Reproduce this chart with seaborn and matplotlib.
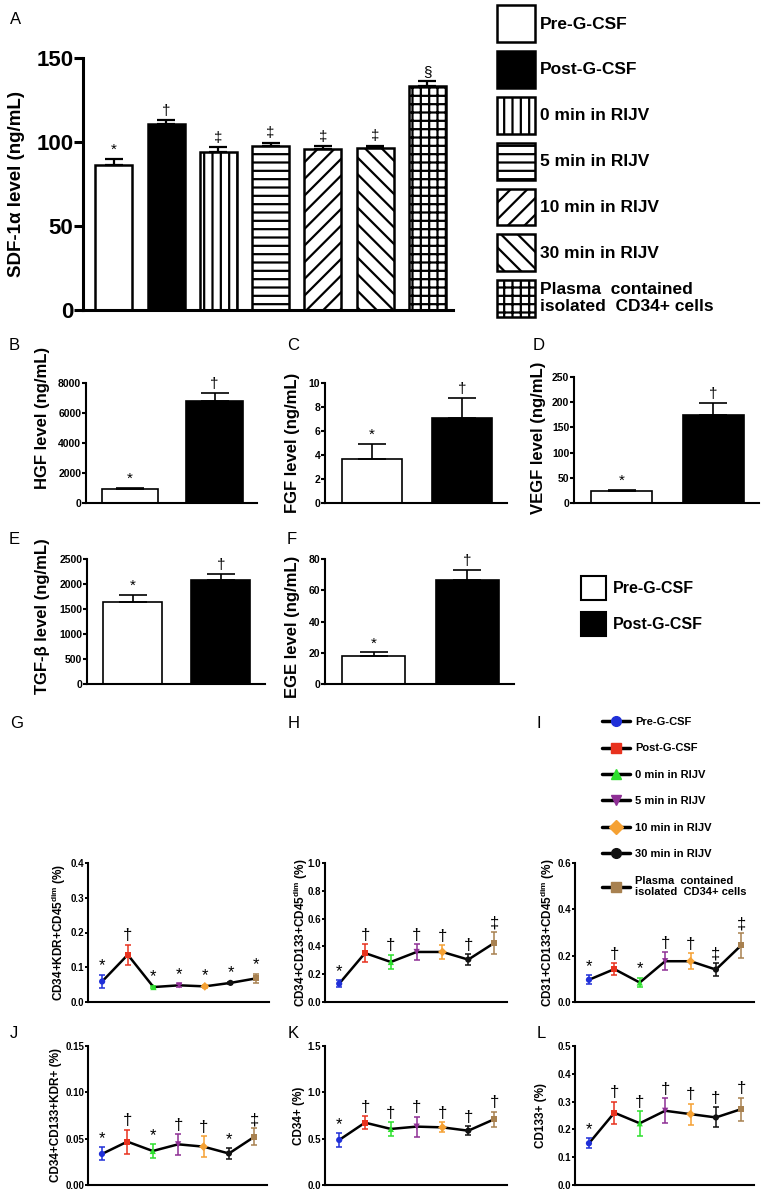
import numpy as np
import pandas as pd
import seaborn as sns
import matplotlib
matplotlib.use('Agg')
from matplotlib import pyplot as plt
from matplotlib.patches import Patch
from matplotlib.lines import Line2D

sns.set_style('ticks')
plt.rcParams['font.family'] = ['Liberation Sans', 'DejaVu Sans']
plt.rcParams['mathtext.fontset'] = 'custom'
plt.rcParams['mathtext.rm'] = 'Liberation Sans'
plt.rcParams['mathtext.bf'] = 'Liberation Sans:bold'
plt.rcParams['hatch.linewidth'] = 1.6
for k in ['text.color', 'axes.labelcolor', 'xtick.color', 'ytick.color', 'axes.edgecolor']:
    plt.rcParams[k] = 'black'

NARROW = ['Liberation Sans Narrow', 'Liberation Sans', 'DejaVu Sans']

# groups of panel A and G-L
groups = ['Pre-G-CSF', 'Post-G-CSF', '0 min in RIJV', '5 min in RIJV',
          '10 min in RIJV', '30 min in RIJV', 'Plasma  contained\nisolated  CD34+ cells']
bar_fills = ['white', 'black', 'white', 'white', 'white', 'white', 'white']
bar_hatches = ['', '', '||', '--', '//', '\\\\', '++']
line_colors = ['#1f2fd8', '#e8321e', '#2ee02e', '#8e2f95', '#f5a133', '#111111', '#a88150']
line_markers = ['o', 's', '^', 'v', 'D', 'o', 's']

# panel A
sdf_mean = [86.4, 110.9, 93.8, 97.9, 95.9, 96.3, 133.5]
sdf_err = [3.6, 2.0, 3.0, 1.8, 1.8, 1.6, 3.0]
sdf_marks = ['*', '†', '‡', '‡', '‡', '‡', '§']
sdf_ticks = [0, 50, 100, 150]

# panels B-F
pair_groups = ['Pre-G-CSF', 'Post-G-CSF']
pair_marks = ['*', '†']
hgf_mean = [930, 6780]
hgf_err = [100, 555]
fgf_mean = [3.65, 7.08]
fgf_err = [1.3, 1.7]
vegf_mean = [23, 174]
vegf_err = [3, 24]
tgf_mean = [1640, 2086]
tgf_err = [134, 120]
ege_mean = [17.6, 66.3]
ege_err = [2.6, 6.9]

# panels G-L
g_mean = [0.059, 0.136, 0.043, 0.048, 0.045, 0.055, 0.068]
g_err = [0.019, 0.029, 0.004, 0.005, 0.004, 0.003, 0.014]
g_marks = ['*', '†', '*', '*', '*', '*', '*']
h_mean = [0.132, 0.352, 0.288, 0.36, 0.36, 0.305, 0.424]
h_err = [0.025, 0.065, 0.053, 0.057, 0.05, 0.04, 0.08]
h_marks = ['*', '†', '†', '†', '†', '†', '‡']
i_mean = [0.096, 0.142, 0.084, 0.176, 0.176, 0.14, 0.245]
i_err = [0.02, 0.026, 0.02, 0.038, 0.035, 0.028, 0.053]
i_marks = ['*', '†', '*', '†', '†', '‡', '‡']
j_mean = [0.0335, 0.0468, 0.0367, 0.0439, 0.0414, 0.034, 0.052]
j_err = [0.007, 0.013, 0.0075, 0.011, 0.011, 0.0055, 0.009]
j_marks = ['*', '†', '*', '†', '†', '*', '‡']
k_mean = [0.486, 0.673, 0.605, 0.63, 0.622, 0.586, 0.709]
k_err = [0.072, 0.07, 0.072, 0.107, 0.054, 0.05, 0.08]
k_marks = ['*', '†', '†', '†', '†', '†', '†']
l_mean = [0.15, 0.26, 0.222, 0.267, 0.255, 0.243, 0.273]
l_err = [0.018, 0.04, 0.044, 0.045, 0.038, 0.036, 0.041]
l_marks = ['*', '†', '†', '†', '†', '†', '†']

W, H = 768, 1196
fig = plt.figure(figsize=(W / 100, H / 100), dpi=100)


def px_axes(x0, x1, ytop, ybot):
    return fig.add_axes([x0 / W, 1 - ybot / H, (x1 - x0) / W, (ybot - ytop) / H])


def bar_panel(ax, names, means, errs, marks, fills, hatches, width, lw, elw, capsize,
              mark_fs, ticks, ticklabels, tick_fs, spine_w, tick_len, ylabel, ylabel_fs,
              label_xy, xlim, tick_family):
    sns.barplot(x=names, y=means, hue=names, palette=dict(zip(names, fills)),
                width=width, edgecolor='black', linewidth=lw, errorbar=None,
                legend=False, ax=ax, zorder=2)
    for p, h in zip(ax.patches, hatches):
        p.set_hatch(h)
    pos = np.arange(len(names))
    ax.errorbar(pos, means, yerr=[np.zeros(len(names)), errs], fmt='none', ecolor='black',
                elinewidth=elw, capsize=capsize, capthick=elw, zorder=3)
    for x, m, e, s in zip(pos, means, errs, marks):
        ax.annotate(s, (x, m + e), xytext=(0, 1.5), textcoords='offset points',
                    ha='center', va='bottom', fontsize=mark_fs)
    ax.set_xlim(*xlim)
    ax.set_ylim(ticks[0], ticks[-1])
    ax.set_xticks([])
    ax.set_xlabel('')
    ax.set_yticks(ticks, labels=ticklabels, fontsize=tick_fs, fontweight='bold', family=tick_family)
    ax.tick_params(axis='y', length=tick_len, width=spine_w, pad=0.5)
    sns.despine(ax=ax)
    for s in ['left', 'bottom']:
        ax.spines[s].set_linewidth(spine_w)
    ax.set_ylabel(ylabel, fontsize=ylabel_fs, fontweight='bold')
    ax.yaxis.set_label_coords(*label_xy)


def line_panel(ax, means, errs, marks, ticks, ticklabels, ylabel, label_x):
    pos = np.arange(len(means))
    sns.lineplot(x=pos, y=means, color='black', linewidth=1.8, ax=ax, zorder=2)
    for x, m, e, c in zip(pos, means, errs, line_colors):
        ax.errorbar(x, m, yerr=e, fmt='none', ecolor=c, elinewidth=1.1,
                    capsize=2.5, capthick=1.1, zorder=3)
    sns.scatterplot(x=pos, y=means, hue=groups, style=groups,
                    palette=dict(zip(groups, line_colors)),
                    markers=dict(zip(groups, line_markers)), s=20, edgecolor='none',
                    legend=False, ax=ax, zorder=4)
    for x, m, e, s in zip(pos, means, errs, marks):
        ax.annotate(s, (x, m + e), xytext=(0, 1), textcoords='offset points',
                    ha='center', va='bottom', fontsize=12)
    ax.set_xlim(-0.55, 6.5)
    ax.set_ylim(ticks[0], ticks[-1])
    ax.set_xticks([])
    ax.set_xlabel('')
    ax.set_yticks(ticks, labels=ticklabels, fontsize=7, fontweight='bold', family=NARROW)
    ax.tick_params(axis='y', length=2.5, width=1.4, pad=0.3)
    sns.despine(ax=ax)
    for s in ['left', 'bottom']:
        ax.spines[s].set_linewidth(1.5)
    ax.set_ylabel(ylabel, fontsize=8.5, fontweight='bold', family=NARROW)
    ax.yaxis.set_label_coords(label_x, 0.5)


# panel A
axA = px_axes(83, 453, 58, 310)
bar_panel(axA, groups, sdf_mean, sdf_err, sdf_marks, bar_fills, bar_hatches, 0.71, 1.8, 1.6, 6.5,
          11, sdf_ticks, [str(t) for t in sdf_ticks], 16, 2.2, 6.5,
          'SDF-1α level (ng/mL)', 13.5, (-0.157, 0.5), (-0.59, 6.49), ['Liberation Sans'])

pair_fills = ['white', 'black']
pair_hatch = ['', '']
pair_specs = [
    ((86, 257, 383, 503), hgf_mean, hgf_err, [0, 2000, 4000, 6000, 8000], 'HGF level (ng/mL)', (-0.21, 0.71)),
    ((325, 507, 383, 503), fgf_mean, fgf_err, [0, 2, 4, 6, 8, 10], 'FGF level (ng/mL)', (-0.137, 0.5)),
    ((574, 759, 377, 503), vegf_mean, vegf_err, [0, 50, 100, 150, 200, 250], 'VEGF level (ng/mL)', (-0.151, 0.52)),
    ((87, 265, 559, 684), tgf_mean, tgf_err, [0, 500, 1000, 1500, 2000, 2500], 'TGF-β level (ng/mL)', (-0.208, 0.54)),
    ((325, 514, 559, 684), ege_mean, ege_err, [0, 20, 40, 60, 80], 'EGE level (ng/mL)', (-0.132, 0.46)),
]
for box, m, e, ticks, lab, lxy in pair_specs:
    ax = px_axes(*box)
    bar_panel(ax, pair_groups, m, e, pair_marks, pair_fills, pair_hatch, 0.67, 1.2, 1.2, 10,
              11, ticks, [str(t) for t in ticks], 7.5, 1.5, 3,
              lab, 12, lxy, (-0.52, 1.5), NARROW)

line_specs = [
    ((88, 269, 863, 1002), g_mean, g_err, g_marks, [0.0, 0.1, 0.2, 0.3, 0.4],
     ['0.0', '0.1', '0.2', '0.3', '0.4'], r'CD34+KDR+CD45$^{\mathbf{dim}}$ (%)', -0.11),
    ((325, 507, 863, 1002), h_mean, h_err, h_marks, [0.0, 0.2, 0.4, 0.6, 0.8, 1.0],
     ['0.0', '0.2', '0.4', '0.6', '0.8', '1.0'], r'CD34+CD133+CD45$^{\mathbf{dim}}$ (%)', -0.085),
    ((575, 754, 863, 1002), i_mean, i_err, i_marks, [0.0, 0.2, 0.4, 0.6],
     ['0.0', '0.2', '0.4', '0.6'], r'CD31+CD133+CD45$^{\mathbf{dim}}$ (%)', -0.10),
    ((88, 267, 1046, 1185), j_mean, j_err, j_marks, [0.0, 0.05, 0.10, 0.15],
     ['0.00', '0.05', '0.10', '0.15'], 'CD34+CD133+KDR+ (%)', -0.145),
    ((325, 507, 1046, 1185), k_mean, k_err, k_marks, [0.0, 0.5, 1.0, 1.5],
     ['0.0', '0.5', '1.0', '1.5'], 'CD34+ (%)', -0.11),
    ((575, 754, 1046, 1185), l_mean, l_err, l_marks, [0.0, 0.1, 0.2, 0.3, 0.4, 0.5],
     ['0.0', '0.1', '0.2', '0.3', '0.4', '0.5'], 'CD133+ (%)', -0.156),
]
for box, m, e, mk, ticks, tl, lab, lx in line_specs:
    ax = px_axes(*box)
    line_panel(ax, m, e, mk, ticks, tl, lab, lx)

# legend of panel A
handles_a = [Patch(facecolor=f, edgecolor='black', hatch=h, linewidth=1.8)
             for f, h in zip(bar_fills, bar_hatches)]
fig.legend(handles_a, groups, loc='upper left', bbox_to_anchor=(497 / W, 1 - 5 / H),
           frameon=False, prop={'weight': 'bold', 'size': 12.5}, handlelength=2.18,
           handleheight=2.89, labelspacing=0.52, handletextpad=0.3, borderpad=0,
           borderaxespad=0)

# legend of panels E-F
handles_ef = [Patch(facecolor=f, edgecolor='black', linewidth=1.5) for f in pair_fills]
fig.legend(handles_ef, pair_groups, loc='upper left', bbox_to_anchor=(581 / W, 1 - 576 / H),
           frameon=False, prop={'weight': 'bold', 'size': 11.5, 'family': NARROW},
           handlelength=1.56, handleheight=1.93, labelspacing=0.75, handletextpad=0.44,
           borderpad=0, borderaxespad=0)

# legend of panels G-L
handles_l = [Line2D([0], [0], color='black', lw=2.5, marker=mk, markerfacecolor=c,
                    markeredgecolor=c, markersize=7)
             for c, mk in zip(line_colors, line_markers)]
fig.legend(handles_l, groups, loc='upper left', bbox_to_anchor=(602 / W, 1 - 717 / H),
           frameon=False, prop={'weight': 'bold', 'size': 8, 'family': NARROW},
           handlelength=2.5, labelspacing=1.48, handletextpad=0.45, borderpad=0,
           borderaxespad=0)

# panel letters
letters = ['A', 'B', 'C', 'D', 'E', 'F', 'G', 'H', 'I', 'J', 'K', 'L']
letter_pos = [(10, 19), (9, 345), (287, 345), (533, 345), (9, 540), (287, 540),
              (10, 723), (288, 723), (537, 723), (10, 1033), (288, 1033), (537, 1033)]
for s, (x, y) in zip(letters, letter_pos):
    fig.text(x / W, 1 - y / H, s, ha='left', va='center', fontsize=12, family=NARROW)

fig.savefig('out.png', dpi=100)
